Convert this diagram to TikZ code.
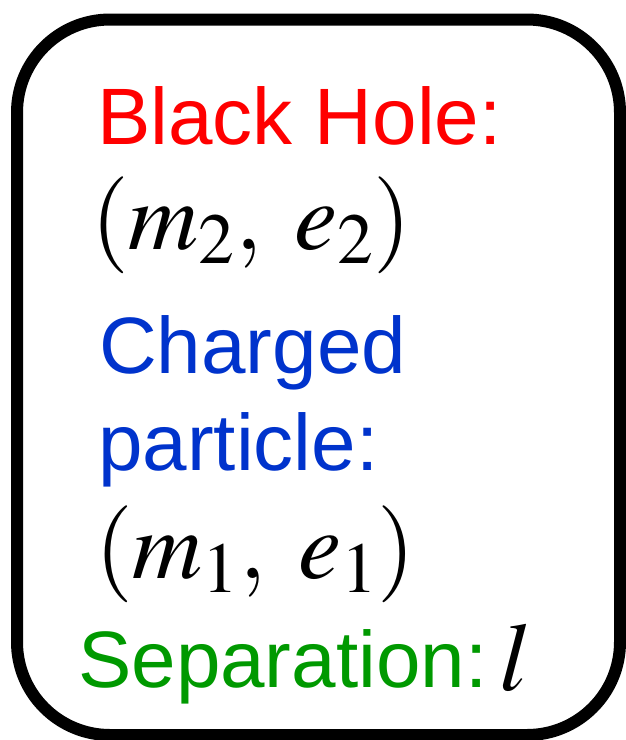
\documentclass[tikz,border=0pt]{standalone}
\usepackage{mathptmx}
\usepackage{fontspec}
\setmainfont{Liberation Sans}
\usepackage{xcolor}
\usepackage{tikz}
\usetikzlibrary{positioning}
\definecolor{bhred}{HTML}{FF0000}
\definecolor{qblue}{HTML}{0033CC}
\definecolor{sepgreen}{HTML}{009900}

\begin{document}
\begin{tikzpicture}[x=1pt,y=1pt,font=\fontsize{80}{96}\selectfont]
\tikzstyle{frame}=[draw,line width=12pt,rounded corners=93pt,minimum width=603pt,minimum height=715.5pt,inner sep=0pt]
\tikzstyle{lbl}=[anchor=base west,inner sep=0pt]
\tikzstyle{mth}=[anchor=base west,inner sep=0pt,font=\fontsize{97}{116}\selectfont]
\useasboundingbox (0,0) rectangle (625,-740);
\node[frame] (box) at (318.5,-377.25) {};
\node[lbl,text=bhred] (bh) at (97,-144) {Black Hole:};
\node[mth] (bhpar) at (91,-249) {$(m_2,\;e_2)$};
\node[lbl,text=qblue] (chg) at (99,-373) {Charged};
\node[lbl,text=qblue] (ptc) at (98,-470) {particle:};
\node[mth] (ptpar) at (95,-578) {$(m_1,\;e_1)$};
\node[lbl,text=sepgreen] (sep) at (78,-687) {Separation:};
\node[mth] (len) at ([xshift=12pt,yshift=-3pt]sep.base east) {$l$};
\end{tikzpicture}
\end{document}
